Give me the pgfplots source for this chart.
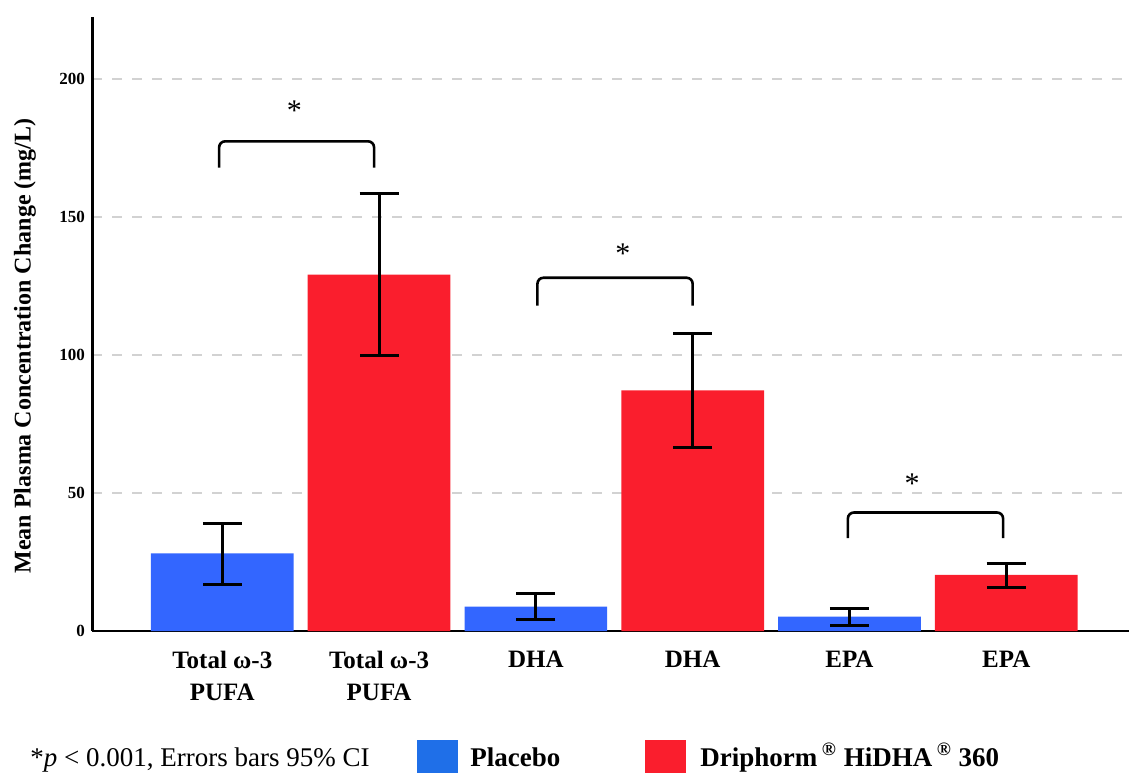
\documentclass[border=0pt]{standalone}
\usepackage{pgfplots}
\usepackage{pgfplotstable}
\pgfplotsset{compat=1.18}
\usepackage{fontspec}
\setmainfont{Liberation Serif}
\definecolor{barblue}{RGB}{51,102,255}
\definecolor{legblue}{RGB}{31,111,232}
\definecolor{barred}{RGB}{250,30,45}
\pgfplotstableread{
x y ep em
0 28.1 10.9 11.1
2 8.8 4.7 4.8
4 5.2 3.0 3.3
}\placebo
\pgfplotstableread{
x y ep em
1 129.0 29.3 29.4
3 87.1 20.5 20.7
5 20.3 4.1 4.4
}\hidha
\begin{document}
\begin{tikzpicture}[x=1pt,y=1pt]
\useasboundingbox (0,0) rectangle (564.5,386.5);
\begin{axis}[
  at={(46pt,71pt)}, anchor=south west,
  scale only axis, width=518.5pt, height=306.85pt,
  xmin=-0.831, xmax=5.783, ymin=0, ymax=222.2,
  axis x line=bottom, axis y line=left,
  x axis line style={-, line width=1pt},
  y axis line style={-, line width=1.5pt},
  ytick={0,50,100,150,200}, major tick length=0pt,
  ymajorgrids,
  major grid style={dash pattern=on 5pt off 5pt, line width=1pt, color=gray!35},
  xtick={0,1,2,3,4,5},
  xticklabels={{Total ω-3\\PUFA},{Total ω-3\\PUFA},DHA,DHA,EPA,EPA},
  xticklabel style={align=center, font=\bfseries\fontsize{12.5}{16}\selectfont, yshift=-6.5pt},
  yticklabel style={font=\bfseries\fontsize{8.5}{9}\selectfont},
  /pgf/number format/assume math mode=true,
  clip=false,
]
\addplot[ybar, bar width=0.91, bar shift=0pt, fill=barblue, draw=none,
  error bars/.cd, y dir=both, y explicit,
  error bar style={line width=1.5pt, black},
  error mark options={rotate=90, mark size=9.75pt, line width=1.5pt, black}]
  table[x=x, y=y, y error plus=ep, y error minus=em] {\placebo};
\addplot[ybar, bar width=0.91, bar shift=0pt, fill=barred, draw=none,
  error bars/.cd, y dir=both, y explicit,
  error bar style={line width=1.5pt, black},
  error mark options={rotate=90, mark size=9.75pt, line width=1.5pt, black}]
  table[x=x, y=y, y error plus=ep, y error minus=em] {\hidha};
% significance brackets
\draw[line width=1.3pt, rounded corners=3pt] (axis cs:-0.02,167.8) -- (axis cs:-0.02,177.3) -- (axis cs:0.968,177.3) -- (axis cs:0.968,167.8);
\draw[line width=1.3pt, rounded corners=3pt] (axis cs:2.01,117.8) -- (axis cs:2.01,127.9) -- (axis cs:3.0,127.9) -- (axis cs:3.0,117.8);
\draw[line width=1.3pt, rounded corners=3pt] (axis cs:3.99,33.6) -- (axis cs:3.99,42.9) -- (axis cs:4.98,42.9) -- (axis cs:4.98,33.6);
\node[font=\fontsize{15}{15}\selectfont, yshift=-2pt] at (axis cs:0.46,190) {*};
\node[font=\fontsize{15}{15}\selectfont, yshift=-2pt] at (axis cs:2.555,138) {*};
\node[font=\fontsize{15}{15}\selectfont, yshift=-2pt] at (axis cs:4.40,54.7) {*};
\end{axis}
% y label
\node[rotate=90, font=\bfseries\fontsize{12}{14}\selectfont] at (12.5,213.5) {Mean Plasma Concentration Change (mg/L)};
% bottom legend
\node[anchor=base west, inner sep=0pt, font=\fontsize{13.5}{15}\selectfont] at (15,3.5) {*\textit{p} < 0.001, Errors bars 95\% CI};
\fill[legblue] (208.5,0) rectangle (229,16.5);
\node[anchor=base west, inner sep=0pt, font=\bfseries\fontsize{13.5}{15}\selectfont] at (235,3.5) {Placebo};
\fill[barred] (322.5,0) rectangle (343,16.5);
\node[anchor=base west, inner sep=0pt, font=\bfseries\fontsize{13.5}{15}\selectfont] at (350,3.5) {Driphorm\,\textsuperscript{®} HiDHA\,\textsuperscript{®} 360};
\end{tikzpicture}
\end{document}
